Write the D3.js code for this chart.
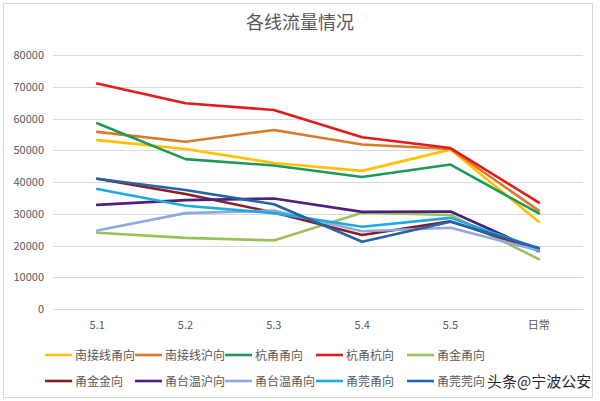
<!DOCTYPE html>
<html><head><meta charset="utf-8">
<script src="https://cdn.jsdelivr.net/npm/d3@7"></script>
<style>body{margin:0;background:#fff;}svg{display:block;font-family:"Noto Sans CJK SC","Microsoft YaHei",sans-serif;}</style>
</head><body>
<svg id="c" width="600" height="401"></svg>
<script>
const categories = ["5.1","5.2","5.3","5.4","5.5","日常"];
const yTicks = [0,10000,20000,30000,40000,50000,60000,70000,80000];
const seriesNames = ["南接线甬向","南接线沪向","杭甬甬向","杭甬杭向","甬金甬向","甬金金向","甬台温沪向","甬台温甬向","甬莞甬向","甬莞莞向"];
const seriesColors = ["#FFC000","#D97A26","#1B9A58","#E31A1C","#9BC25A","#8B1E22","#4A2180","#8FAADC","#1FA9E1","#2364AA"];
const s1 = [53200,50400,46000,43500,50200,27500];
const s2 = [55800,52700,56400,51800,50400,31000];
const s3 = [58500,47200,45200,41600,45500,30100];
const s4 = [71000,64800,62700,54100,50700,33500];
const s5 = [24000,22400,21600,30300,29600,15700];
const s6 = [41000,36200,30400,23300,27600,18500];
const s7 = [32800,34300,34800,30600,30700,18200];
const s8 = [24700,30200,31000,24500,25600,18400];
const s9 = [37800,32500,30200,25900,28700,19000];
const s10 = [41000,37500,33000,21200,27500,19200];
const seriesValues = [s1,s2,s3,s4,s5,s6,s7,s8,s9,s10];
const watermark = "头条@宁波公安";

(function(){
const svg = d3.select("#c");
svg.append("rect").attr("x",3.5).attr("y",3.5).attr("width",589).attr("height",394)
  .attr("fill","#fff").attr("stroke","#d9d9d9");

const pl = 53, pr = 583, pt = 55, pb = 309;
const x = d3.scaleBand().domain(categories).range([pl,pr]);
const y = d3.scaleLinear().domain([0,80000]).range([pb,pt]);

svg.append("text").attr("x",300).attr("y",29).attr("text-anchor","middle")
  .attr("font-size",18).attr("fill","#595959").text("各线流量情况");

svg.append("g").selectAll("line").data(yTicks).join("line")
  .attr("x1",pl).attr("x2",pr).attr("y1",d=>Math.round(y(d))+0.5).attr("y2",d=>Math.round(y(d))+0.5)
  .attr("stroke","#d9d9d9").attr("stroke-width",1);

const ya = svg.append("g").attr("transform",`translate(${pl},0)`)
  .call(d3.axisLeft(y).tickValues(yTicks).tickSize(0).tickPadding(9).tickFormat(d3.format("d")));
ya.select(".domain").remove();
ya.selectAll("text").attr("font-size",11).attr("fill","#595959").attr("font-family","'Noto Sans CJK SC',sans-serif");

const xa = svg.append("g").attr("transform",`translate(0,${pb})`)
  .call(d3.axisBottom(x).tickSize(0).tickPadding(12));
xa.select(".domain").remove();
xa.selectAll("text").attr("font-size",11).attr("fill","#595959").attr("font-family","'Noto Sans CJK SC',sans-serif");

const line = d3.line().x((d,i)=>x(categories[i])+x.bandwidth()/2).y(d=>y(d));
svg.append("g").selectAll("path").data(seriesValues).join("path")
  .attr("d",d=>line(d)).attr("fill","none")
  .attr("stroke",(d,i)=>seriesColors[i]).attr("stroke-width",2.6)
  .attr("stroke-linejoin","round").attr("stroke-linecap","round");

const colX = [45,135,225,316,407];
const rowY = [355,381];
const lg = svg.append("g");
seriesNames.forEach((n,i)=>{
  const cx = colX[i%5], cy = rowY[Math.floor(i/5)];
  const g = lg.append("g").attr("transform",`translate(${cx},${cy})`);
  g.append("line").attr("x1",0).attr("x2",27).attr("y1",0).attr("y2",0)
    .attr("stroke",seriesColors[i]).attr("stroke-width",2.6);
  g.append("text").attr("x",30).attr("y",4.5).attr("font-size",12).attr("fill","#595959").text(n);
});

svg.append("text").attr("x",487).attr("y",387).attr("font-size",15)
  .attr("fill","#2a2a2a").attr("stroke","#fff").attr("stroke-width",2.5).attr("paint-order","stroke")
  .text(watermark);
})();
</script>
</body></html>
